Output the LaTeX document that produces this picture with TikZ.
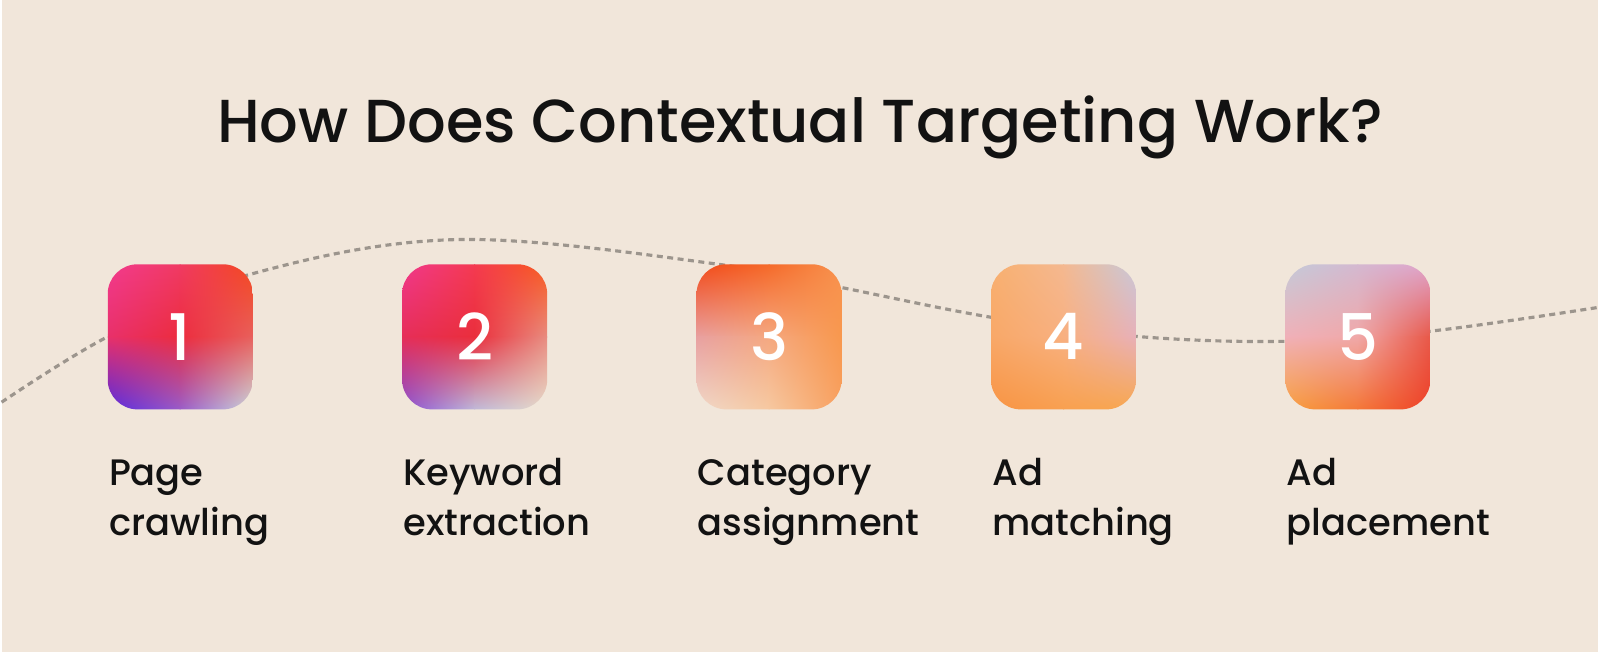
\documentclass[tikz,border=0pt]{standalone}
\usepackage{fontspec}
\setmainfont{Poppins}[UprightFont={* Medium}]
\usetikzlibrary{shadings}
\definecolor{paper}{HTML}{F1E6DA}
\definecolor{ink}{HTML}{121212}
\definecolor{trailgray}{HTML}{9C958D}
% 3x3 colour grid of each tile, rows top to bottom
\newcommand{\tilerow}[4]{\definecolor{#11}{HTML}{#2}\definecolor{#12}{HTML}{#3}\definecolor{#13}{HTML}{#4}}
\tilerow{A1}{F23A8E}{F03A62}{F4481E}
\tilerow{A2}{E8306A}{EC2C3E}{E8605C}
\tilerow{A3}{5A2ADC}{9A5CC8}{CCD6DA}
\tilerow{B1}{F0388C}{F43A50}{F85A1E}
\tilerow{B2}{E62E58}{EA2E3C}{E88C80}
\tilerow{B3}{8C50D0}{C0B8D8}{E8DCCA}
\tilerow{C1}{F24A1A}{F56A2A}{F8924E}
\tilerow{C2}{E8A0A0}{F5A880}{F8984E}
\tilerow{C3}{F0D8C8}{F6C8A0}{F8A060}
\tilerow{D1}{F8B070}{F4B890}{C8C8D8}
\tilerow{D2}{F8A868}{F8B080}{E8B0B8}
\tilerow{D3}{F89444}{F8A050}{F8A850}
\tilerow{E1}{C4CAD8}{D4B8D0}{E0A4CC}
\tilerow{E2}{F0B0B8}{F0A8A8}{E85848}
\tilerow{E3}{F8A040}{F47838}{EE4028}
\tikzset{
  headline/.style={font=\fontsize{17.3}{21}\selectfont,text=ink,anchor=base,inner sep=0},
  trail/.style={trailgray,line width=0.9pt,dash pattern=on 0.6mm off 0.45mm},
  tile/.style={minimum size=14.4mm,inner sep=0},
  tilenum/.style={font=\fontsize{18.3}{22}\selectfont,text=white,inner sep=0},
  steplabel/.style={font=\fontsize{10.5}{14.4}\selectfont,text=ink,align=left,
    anchor=base west,inner sep=0}
}
\begin{document}
\begin{tikzpicture}[x=0.1mm,y=-0.1mm]
\pgfmathsetmacro{\tsep}{295}
\pgfmathsetmacro{\thalf}{72}
\fill[paper](0,0)rectangle(1600,653);
\node[headline](head)at(800,143){How Does Contextual Targeting Work?};
% dotted trail, the tiles sit on top of it
\draw[trail]plot[smooth,tension=0.6]coordinates{(0,403)(107,337)(245,276)(459,240)(735,267)(841,288)(992,318)(1136,337)(1286,342)(1430,332)(1600,308)};
\foreach \i/\c/\top/\bot in {1/A/Page/crawling,2/B/Keyword/extraction,3/C/Category/assignment,4/D/Ad/matching,5/E/Ad/placement}{
  \pgfmathsetmacro{\tx}{179+\tsep*(\i-1)}
  \node[tile](t\i)at(\tx,337.5){};
  \begin{scope}
  \clip[rounded corners=3mm](t\i.south west)rectangle(t\i.north east);
  \foreach \r/\rr in {1/2,2/3}
  \foreach \k/\kk in {1/2,2/3}{
    \pgfmathsetmacro{\qx}{\tx-\thalf*(2-\k)}
    \pgfmathsetmacro{\qy}{337.5-\thalf*(2-\r)}
    \shade[upper left=\c\r\k,upper right=\c\r\kk,lower left=\c\rr\k,lower right=\c\rr\kk]
      (\qx-0.5,\qy-0.5)rectangle(\qx+\thalf+0.5,\qy+\thalf+0.5);
  }
  \end{scope}
  \node[tilenum](n\i)at(t\i){\i};
  \node[steplabel](l\i)at(\tx-\thalf,537){\top\\\bot};
}
\end{tikzpicture}
\end{document}
